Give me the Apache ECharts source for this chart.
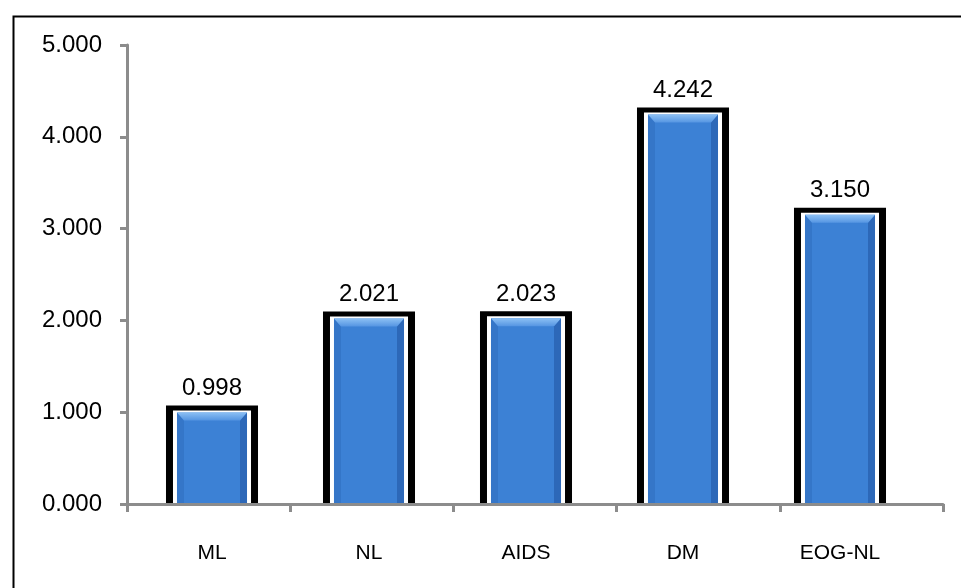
<!DOCTYPE html>
<html>
<head>
<meta charset="utf-8">
<script src="https://cdn.jsdelivr.net/npm/echarts@6/dist/echarts.min.js"></script>
<style>
  html, body { margin: 0; padding: 0; background: #fff; }
  #chart { width: 961px; height: 588px; }
</style>
</head>
<body>
<div id="chart"></div>
<script>
// Model names and their scores
const categories = ['ML', 'NL', 'AIDS', 'DM', 'EOG-NL'];
const scores = [0.998, 2.021, 2.023, 4.242, 3.150];
const yMin = 0;
const yMax = 5;
const yStep = 1;

const FONT = '"Liberation Sans", Arial, sans-serif';
const fmt = v => v.toFixed(3);

// Framed bar: black outer box, white inset, bevelled blue column
function renderFramedBar(params, api) {
  const idx = api.value(0);
  const v = api.value(1);
  const top = api.coord([idx, v]);
  const base = api.coord([idx, 0]);
  const band = api.size([1, 0])[0];
  const bw = band * 0.446;
  const cx = top[0];
  const x0 = cx - bw / 2, x1 = cx + bw / 2;
  const y0 = top[1], y1 = base[1];
  const outerSide = 11, outerTop = 7;
  const whiteSide = 4, whiteTop = 2;
  const bev = 7;
  return {
    type: 'group',
    children: [
      { type: 'rect', shape: { x: x0 - outerSide, y: y0 - outerTop, width: bw + outerSide * 2, height: y1 - y0 + outerTop }, style: { fill: '#000' } },
      { type: 'rect', shape: { x: x0 - whiteSide, y: y0 - whiteTop, width: bw + whiteSide * 2, height: y1 - y0 + whiteTop }, style: { fill: '#fff' } },
      { type: 'rect', shape: { x: x0, y: y0, width: bw, height: y1 - y0 }, style: { fill: '#3c81d5' } },
      { type: 'polygon', shape: { points: [[x0, y0], [x0 + bev, y0 + bev + 1], [x0 + bev, y1], [x0, y1]] }, style: { fill: '#3576c8' } },
      { type: 'polygon', shape: { points: [[x1, y0], [x1, y1], [x1 - bev, y1], [x1 - bev, y0 + bev + 1]] }, style: { fill: '#2d68b8' } },
      { type: 'polygon', shape: { points: [[x0, y0], [x1, y0], [x1 - bev, y0 + bev + 1], [x0 + bev, y0 + bev + 1]] },
        style: { fill: new echarts.graphic.LinearGradient(0, 0, 0, 1, [{ offset: 0, color: '#8cc0f4' }, { offset: 1, color: '#5595e2' }]) } },
      { type: 'text', style: { text: fmt(v), x: cx, y: y0 - outerTop - 5, align: 'center', verticalAlign: 'bottom', fontSize: 24, fontFamily: FONT, fill: '#000' } }
    ]
  };
}

const chart = echarts.init(document.getElementById('chart'), null, { renderer: 'canvas' });
chart.setOption({
  animation: false,
  backgroundColor: '#fff',
  graphic: [
    { type: 'rect', left: 11, top: 14, shape: { width: 970, height: 600 }, style: { fill: 'none', stroke: '#000', lineWidth: 2 }, z: 100 }
  ],
  grid: [
    { left: 127, right: 18, top: 45, bottom: 84 },
    { left: 133.5, width: 785, top: 45, bottom: 84 }
  ],
  xAxis: [
    {
      gridIndex: 0, type: 'category', data: categories, z: 10,
      axisLine: { lineStyle: { color: '#8c8c8c', width: 3 } },
      axisTick: { show: true, length: 8, lineStyle: { color: '#8c8c8c', width: 3 } },
      axisLabel: { show: false }
    },
    {
      gridIndex: 1, type: 'category', data: categories,
      axisLine: { show: false }, axisTick: { show: false },
      axisLabel: { color: '#000', fontSize: 21, fontFamily: FONT, margin: 39 }
    }
  ],
  yAxis: [
    {
      gridIndex: 0, type: 'value', min: yMin, max: yMax, interval: yStep,
      axisLine: { show: true, lineStyle: { color: '#8c8c8c', width: 3 } },
      axisTick: { show: true, length: 7, lineStyle: { color: '#8c8c8c', width: 3 } },
      splitLine: { show: false },
      axisLabel: { color: '#000', fontSize: 24, fontFamily: FONT, margin: 25, formatter: v => fmt(v) }
    },
    {
      gridIndex: 1, type: 'value', min: yMin, max: yMax, interval: yStep, show: false,
      splitLine: { show: false }
    }
  ],
  series: [
    {
      type: 'custom', xAxisIndex: 1, yAxisIndex: 1,
      renderItem: renderFramedBar,
      data: scores.map((v, i) => [i, v]),
      z: 2
    }
  ]
});
</script>
</body>
</html>
